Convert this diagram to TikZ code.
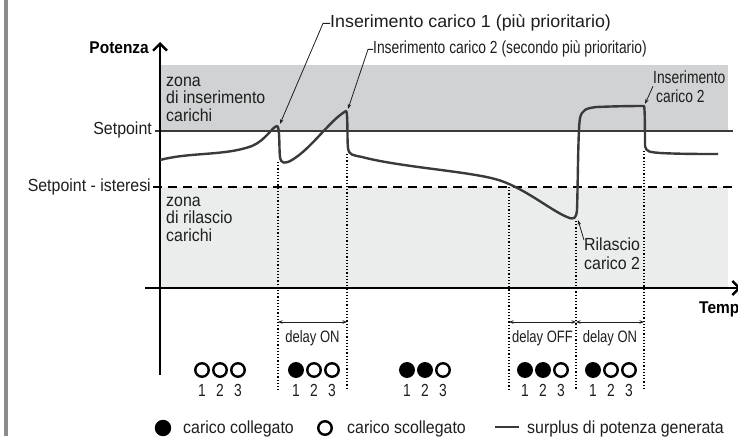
\documentclass[tikz,border=0pt]{standalone}
\usepackage{fontspec}
\setmainfont{Liberation Sans}[FakeStretch=0.91]
\newfontfamily\narrowfont{Liberation Sans}[FakeStretch=0.79]
\newfontfamily\widefont{Liberation Sans}[FakeStretch=1.02]
\usetikzlibrary{arrows.meta}
\definecolor{zonahi}{HTML}{D1D2D4}
\definecolor{zonalo}{HTML}{EBECEC}
\definecolor{curva}{HTML}{3A3A3A}
\definecolor{barra}{HTML}{8C8C8C}
\definecolor{inchiostro}{HTML}{1E1E1E}
\tikzset{
  axisline/.style={draw=black, line width=2.4pt, -{Straight Barb[length=7pt,width=14pt]}},
  setline/.style={draw=curva, line width=1.1pt},
  hystline/.style={draw=black, line width=1.2pt, dash pattern=on 9pt off 6pt},
  guide/.style={draw=black, line width=1.2pt, dash pattern=on 1.2pt off 2pt},
  powercurve/.style={draw=curva, line width=2.4pt, line join=round},
  leader/.style={draw=inchiostro, line width=0.8pt, -{Stealth[length=5pt,width=3.5pt]}},
  delayarrow/.style={draw=inchiostro, line width=0.8pt, {Stealth[length=4.5pt,width=3.5pt]}-{Stealth[length=4.5pt,width=3.5pt]}},
  lab/.style={text=inchiostro, inner sep=0pt, font=\fontsize{17.5}{17.5}\selectfont},
  nlab/.style={text=inchiostro, inner sep=0pt, font=\narrowfont\fontsize{17.5}{19}\selectfont},
  wlab/.style={text=inchiostro, inner sep=0pt, font=\widefont\fontsize{17.5}{19}\selectfont},
  dlab/.style={text=inchiostro, inner sep=0pt, font=\narrowfont\fontsize{16.5}{18}\selectfont},
  blab/.style={text=black, inner sep=0pt, font=\bfseries\fontsize{17}{18}\selectfont},
  load/.style={circle, draw=black, line width=2.4pt, minimum size=13.5pt, inner sep=0pt}
}
\begin{document}
\begin{tikzpicture}[x=1pt, y=-1pt]
  \useasboundingbox (0,0) rectangle (738,436);

  % margin bar
  \fill[barra] (4,0) rectangle (7.5,436);

  % zones
  \fill[zonahi] (160,65) rectangle (728,131);
  \fill[zonalo] (160,187) rectangle (728,288);
  \node[lab, anchor=base west, align=left] (zonaIns) at (166,121) {zona\\di inserimento\\carichi};
  \node[lab, anchor=base west, align=left] (zonaRil) at (166,241) {zona\\di rilascio\\carichi};

  % setpoint and hysteresis
  \draw[setline] (155,131) -- (733,131);
  \draw[hystline] (153,187) -- (733,187);
  \node[lab, anchor=base east] (setp) at (152,134) {Setpoint};
  \node[lab, anchor=base east] (isteresi) at (151,191) {Setpoint - isteresi};

  % dotted guides
  \foreach \gx/\gy in {278/162, 347/154, 509/187, 576/221, 644/151}
    \draw[guide] (\gx,\gy) -- (\gx,390);

  % axes
  \draw[axisline] (160,375) -- (160,42);
  \draw[axisline] (145,288) -- (741,288);
  \node[blab, anchor=base east] (potenza) at (149,54) {Potenza};
  \node[blab, anchor=base west] (tempo) at (699,313) {Tempo};

  % generated power surplus
  \draw[powercurve] (160,160)
    .. controls (190,152) and (225,156) .. (252,146)
    .. controls (266,140) and (272,127) .. (277,126)
    .. controls (280,126) and (279,150) .. (280,157)
    .. controls (281,164) and (285,164) .. (292,160)
    .. controls (312,148) and (330,120) .. (346,111)
    .. controls (348,111) and (347,140) .. (348,148)
    .. controls (349,155) and (352,155) .. (362,157)
    .. controls (400,167) and (465,171) .. (495,179)
    .. controls (522,186) and (550,210) .. (567,217)
    .. controls (574,220) and (576,219) .. (577,210)
    .. controls (578,180) and (578,130) .. (580,118)
    .. controls (582,110) and (586,108) .. (597,107)
    .. controls (620,106) and (640,106) .. (644,106)
    .. controls (645,107) and (645,140) .. (645,146)
    .. controls (646,152) and (650,152) .. (660,153)
    .. controls (680,154) and (700,154) .. (718,154);

  \coordinate (insA) at (280,124);
  \coordinate (insB) at (348,109);
  \coordinate (insC) at (645,104);
  \coordinate (relC) at (578,220);

  % annotations
  \node[wlab, anchor=base west] (lblA) at (330,28) {Inserimento carico 1 (più prioritario)};
  \node[nlab, anchor=base west] (lblB) at (373,54) {Inserimento carico 2 (secondo più prioritario)};
  \node[nlab, anchor=base west, align=left] (lblC) at (653,102) {Inserimento\\\hspace{3pt}carico 2};
  \node[lab, anchor=base west, align=left, font=\fontsize{17.5}{19}\selectfont] (lblD) at (584,269) {Rilascio\\carico 2};
  \draw[leader] (lblA.west) -- ++(-7,0) -- (insA);
  \draw[leader] (lblB.west) -- ++(-5,0) -- (insB);
  \draw[leader] (lblC.west) -- (insC);
  \draw[leader] ([yshift=-3pt]lblD.north west) -- (relC);

  % delays
  \foreach \tx [count=\i] in {278,347,509,576,644}
    \coordinate (t\i) at (\tx,322);
  \draw[delayarrow] (t1) -- (t2);
  \draw[delayarrow] (t3) -- (t4);
  \draw[delayarrow] (t4) -- (t5);
  \node[dlab, anchor=base] (dOnA) at (312.5,342) {delay ON};
  \node[dlab, anchor=base] (dOff) at (542.5,342) {delay OFF};
  \node[dlab, anchor=base] (dOnB) at (610,342) {delay ON};

  % load states
  \foreach \gx/\ca/\cb/\cc [count=\g] in {220/white/white/white, 314/black/white/white,
      425/black/black/white, 543/black/black/white, 611/black/white/white} {
    \node[load, fill=\ca] (s\g-1) at (\gx-18,370) {};
    \node[load, fill=\cb] (s\g-2) at (\gx,370) {};
    \node[load, fill=\cc] (s\g-3) at (\gx+18,370) {};
    \node[nlab, anchor=base] (n\g-1) at (\gx-18,396) {1};
    \node[nlab, anchor=base] (n\g-2) at (\gx,396) {2};
    \node[nlab, anchor=base] (n\g-3) at (\gx+18,396) {3};
  }

  % legend
  \node[load, fill=black, minimum size=14pt] (legOn) at (163,428) {};
  \node[lab, anchor=base west] (legOnTxt) at (183,433) {carico collegato};
  \node[load, fill=white] (legOff) at (325,428) {};
  \node[lab, anchor=base west] (legOffTxt) at (347,433) {carico scollegato};
  \coordinate (legLine) at (495,427);
  \draw[powercurve] (legLine) -- ++(24,0);
  \node[lab, anchor=base west] (legCurve) at (527,433) {surplus di potenza generata};
\end{tikzpicture}
\end{document}
